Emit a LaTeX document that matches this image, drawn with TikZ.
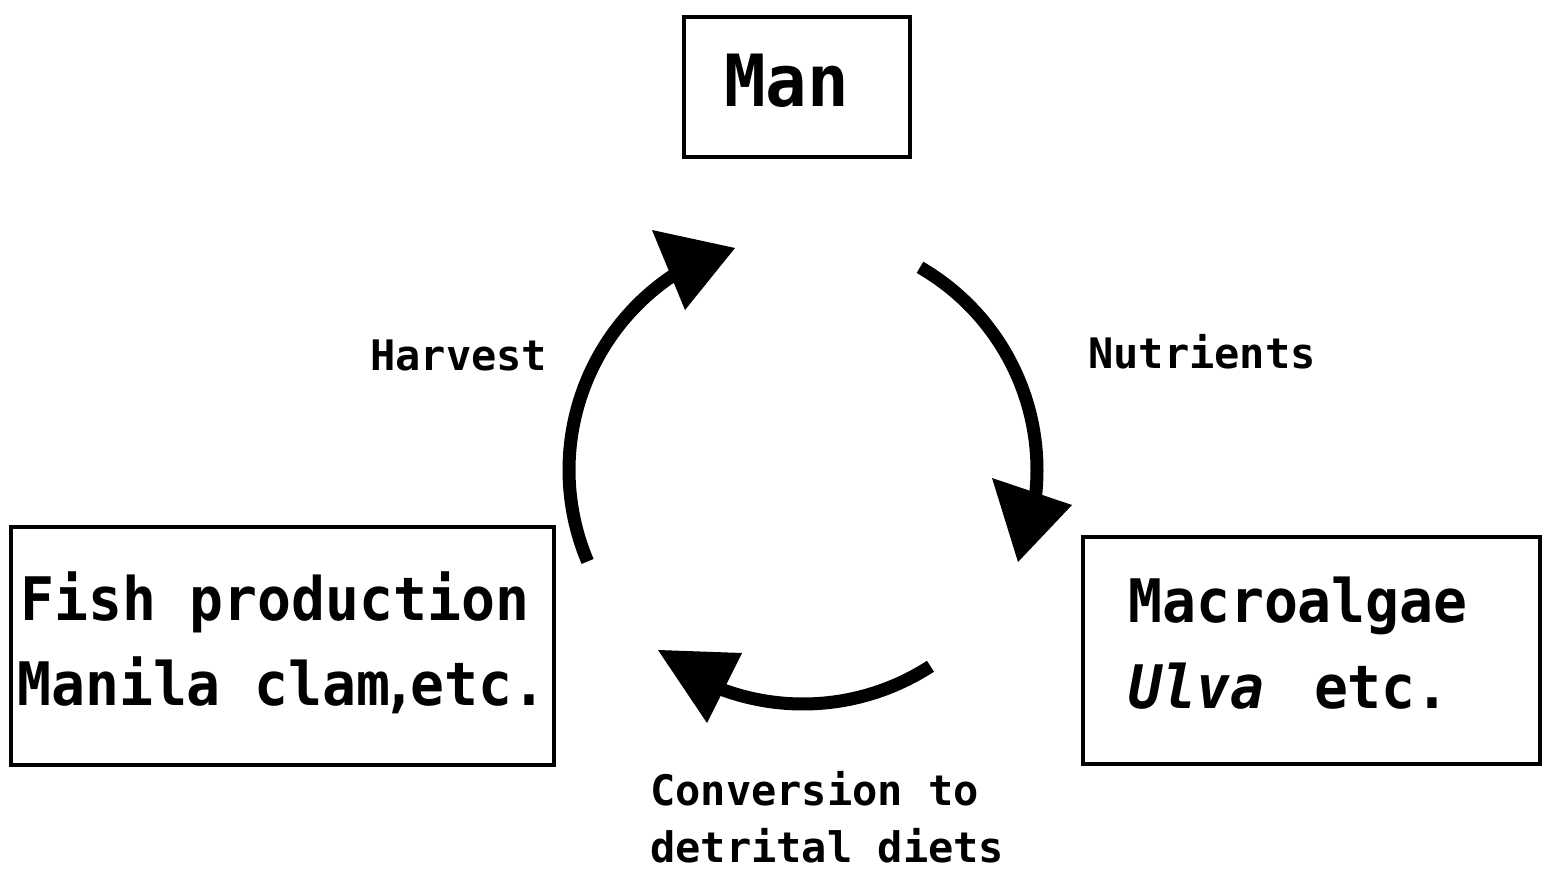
\documentclass[tikz,border=0pt]{standalone}
\usepackage{fontspec}
\newfontfamily\boxfontfam[FakeStretch=0.94]{DejaVu Sans Mono}
\newfontfamily\manfontfam[FakeStretch=0.96]{DejaVu Sans Mono}
\newfontfamily\labfontfam{DejaVu Sans Mono}
\newcommand{\boxfont}{\boxfontfam\bfseries\fontsize{60pt}{72pt}\selectfont}
\newcommand{\manfont}{\manfontfam\bfseries\fontsize{72pt}{84pt}\selectfont}
\newcommand{\labfont}{\labfontfam\bfseries\fontsize{42pt}{50pt}\selectfont}
\begin{document}
\begin{tikzpicture}[x=1pt,y=-1pt,
  frame/.style={draw=black, line width=4pt, anchor=north west, inner sep=0pt},
  flow/.style={line width=13pt, draw=black},
  head/.style={fill=black},
  txt/.style={anchor=base west, inner sep=0pt},
  ]
\useasboundingbox (0,0) rectangle (1547,872);
\fill[white] (0,0) rectangle (1547,872);

% boxes
\node[frame, minimum width=226pt, minimum height=140pt] (man) at (682,15) {};
\node[frame, minimum width=543pt, minimum height=238pt] (fish) at (9,525) {};
\node[frame, minimum width=457pt, minimum height=227pt] (macro) at (1081,535) {};

% box texts
\node[txt, font=\manfont] (mantext) at (724,107) {Man};
\node[txt, font=\boxfont] (fish1) at (20,620) {Fish production};
\node[txt, font=\boxfont] (fish2) at (17,705) {Manila clam\kern-8pt,\kern-6pt etc.};
\node[txt, font=\boxfont] (macro1) at (1128,622) {Macroalgae};
\node[txt, font=\boxfont] (macro2) at (1128,708) {\itshape Ulva\upshape\hspace{50pt}etc.};

% labels
\node[txt, font=\labfont] (harvest) at (370,370) {Harvest};
\node[txt, font=\labfont] (nutrients) at (1088,368) {Nutrients};
\node[txt, font=\labfont] (conv1) at (650,805) {Conversion to};
\node[txt, font=\labfont] (conv2) at (650,862) {detrital diets};

% cycle arrows
\coordinate (c) at (803,470);
\draw[flow] plot[domain=157:240, samples=80, smooth] ({803+234*cos(\x)}, {470+234*sin(\x)});
\fill[head] (652,230) -- (735,248) -- (685,310) -- cycle;

\draw[flow] plot[domain=-60:8, samples=80, smooth] ({803+234*cos(\x)}, {470+234*sin(\x)});
\fill[head] (992,478) -- (1072,505) -- (1018,562) -- cycle;

\draw[flow] plot[domain=57:113, samples=80, smooth] ({803+234*cos(\x)}, {470+234*sin(\x)});
\fill[head] (658,650) -- (742,653) -- (707,723) -- cycle;
\end{tikzpicture}
\end{document}
